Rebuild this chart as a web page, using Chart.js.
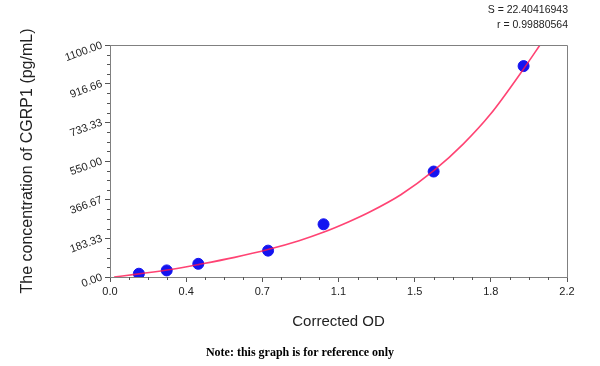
<!DOCTYPE html>
<html>
<head>
<meta charset="utf-8">
<script src="https://cdn.jsdelivr.net/npm/chart.js@4.4.1/dist/chart.umd.min.js"></script>
<style>
  html, body { margin: 0; padding: 0; background: #fff; }
  #wrap { width: 600px; height: 366px; position: relative; }
</style>
</head>
<body>
<div id="wrap"><canvas id="myChart" width="600" height="366"></canvas></div>
<script>
// standards: corrected OD vs concentration
const odValues = [0.139, 0.273, 0.425, 0.761, 1.028, 1.558, 1.991];
const concValues = [15.6, 31.25, 62.5, 125, 250, 500, 1000];

// fitted curve
const curveOd = [0.02, 0.14, 0.30, 0.43, 0.60, 0.76, 0.91, 1.03, 1.15, 1.25, 1.40, 1.56, 1.70, 1.83, 1.99, 2.07];
const curveConc = [0, 15, 37, 60, 93, 130, 172, 213, 262, 308, 390, 505, 630, 770, 985, 1100];

const xTickValues = [0, 0.36667, 0.73333, 1.1, 1.46667, 1.83333, 2.2];
const xTickLabels = ['0.0', '0.4', '0.7', '1.1', '1.5', '1.8', '2.2'];
const yTickValues = [0, 183.33, 366.67, 550, 733.33, 916.66, 1100];
const yTickLabels = ['0.00', '183.33', '366.67', '550.00', '733.33', '916.66', '1100.00'];

const fitStats = ['S = 22.40416943', 'r = 0.99880564'];
const noteText = 'Note: this graph is for reference only';

const axisColor = '#808080';
const textColor = '#222';

// minor ticks, box edges and the free texts
const extras = {
  id: 'extras',
  afterDraw(chart) {
    const { ctx, chartArea: a, scales } = chart;
    ctx.save();
    ctx.strokeStyle = axisColor;
    ctx.lineWidth = 1;
    ctx.beginPath();
    ctx.moveTo(a.left, a.top + 0.5);
    ctx.lineTo(a.right + 0.5, a.top + 0.5);
    ctx.lineTo(a.right + 0.5, a.bottom);
    ctx.stroke();

    ctx.strokeStyle = '#555';
    ctx.beginPath();
    for (let i = 1; i < 24; i++) {
      if (i % 4 === 0) continue;
      const px = Math.round(scales.x.getPixelForValue(i * 2.2 / 24)) + 0.5;
      ctx.moveTo(px, a.bottom);
      ctx.lineTo(px, a.bottom + 3);
      const py = Math.round(scales.y.getPixelForValue(i * 1100 / 24)) + 0.5;
      ctx.moveTo(a.left, py);
      ctx.lineTo(a.left - 3, py);
    }
    ctx.stroke();

    ctx.fillStyle = textColor;
    ctx.font = '10.5px "Liberation Sans", Arial, sans-serif';
    ctx.textAlign = 'right';
    ctx.textBaseline = 'middle';
    ctx.fillText(fitStats[0], 568, 10);
    ctx.fillText(fitStats[1], 568, 25);

    ctx.fillStyle = '#000';
    ctx.font = 'bold 12px "Liberation Serif", "Times New Roman", serif';
    ctx.textAlign = 'center';
    ctx.fillText(noteText, 300, 353);
    ctx.restore();
  }
};

new Chart(document.getElementById('myChart'), {
  type: 'scatter',
  data: {
    datasets: [
      {
        type: 'line',
        data: curveOd.map((x, i) => ({ x, y: curveConc[i] })),
        borderColor: 'rgba(255, 20, 80, 0.8)',
        borderWidth: 1.6,
        pointRadius: 0,
        cubicInterpolationMode: 'monotone',
        fill: false
      },
      {
        data: odValues.map((x, i) => ({ x, y: concValues[i] })),
        backgroundColor: '#1414f0',
        borderColor: '#1414f0',
        pointRadius: 5.5,
        pointHoverRadius: 5.5
      }
    ]
  },
  options: {
    responsive: false,
    animation: false,
    layout: { padding: { top: 45, right: 33, left: 0, bottom: 0 } },
    plugins: {
      legend: { display: false },
      tooltip: { enabled: false }
    },
    scales: {
      x: {
        type: 'linear',
        min: 0,
        max: 2.2,
        afterBuildTicks: (scale) => { scale.ticks = xTickValues.map(v => ({ value: v })); },
        afterFit: (scale) => { scale.height = 89; },
        ticks: {
          callback: (v, i) => xTickLabels[i],
          color: textColor,
          font: { family: '"Liberation Sans", Arial, sans-serif', size: 11 },
          maxRotation: 0,
          padding: 3
        },
        grid: { drawOnChartArea: false, drawTicks: true, tickLength: 5, color: '#555' },
        border: { color: axisColor },
        title: {
          display: true,
          text: 'Corrected OD',
          color: textColor,
          font: { family: '"Liberation Sans", Arial, sans-serif', size: 15 },
          padding: { top: 0, bottom: 35 }
        }
      },
      y: {
        type: 'linear',
        min: 0,
        max: 1100,
        afterBuildTicks: (scale) => { scale.ticks = yTickValues.map(v => ({ value: v })); },
        afterFit: (scale) => { scale.width = 110; },
        ticks: {
          callback: (v, i) => yTickLabels[i],
          color: textColor,
          font: { family: '"Liberation Sans", Arial, sans-serif', size: 11 },
          minRotation: 20,
          maxRotation: 20,
          padding: 3
        },
        grid: { drawOnChartArea: false, drawTicks: true, tickLength: 5, color: '#555' },
        border: { color: axisColor },
        title: {
          display: true,
          text: 'The concentration of CGRP1 (pg/mL)',
          color: textColor,
          font: { family: '"Liberation Sans", Arial, sans-serif', size: 16 },
          padding: { top: 18, bottom: 0 }
        }
      }
    }
  },
  plugins: [extras]
});
</script>
</body>
</html>
